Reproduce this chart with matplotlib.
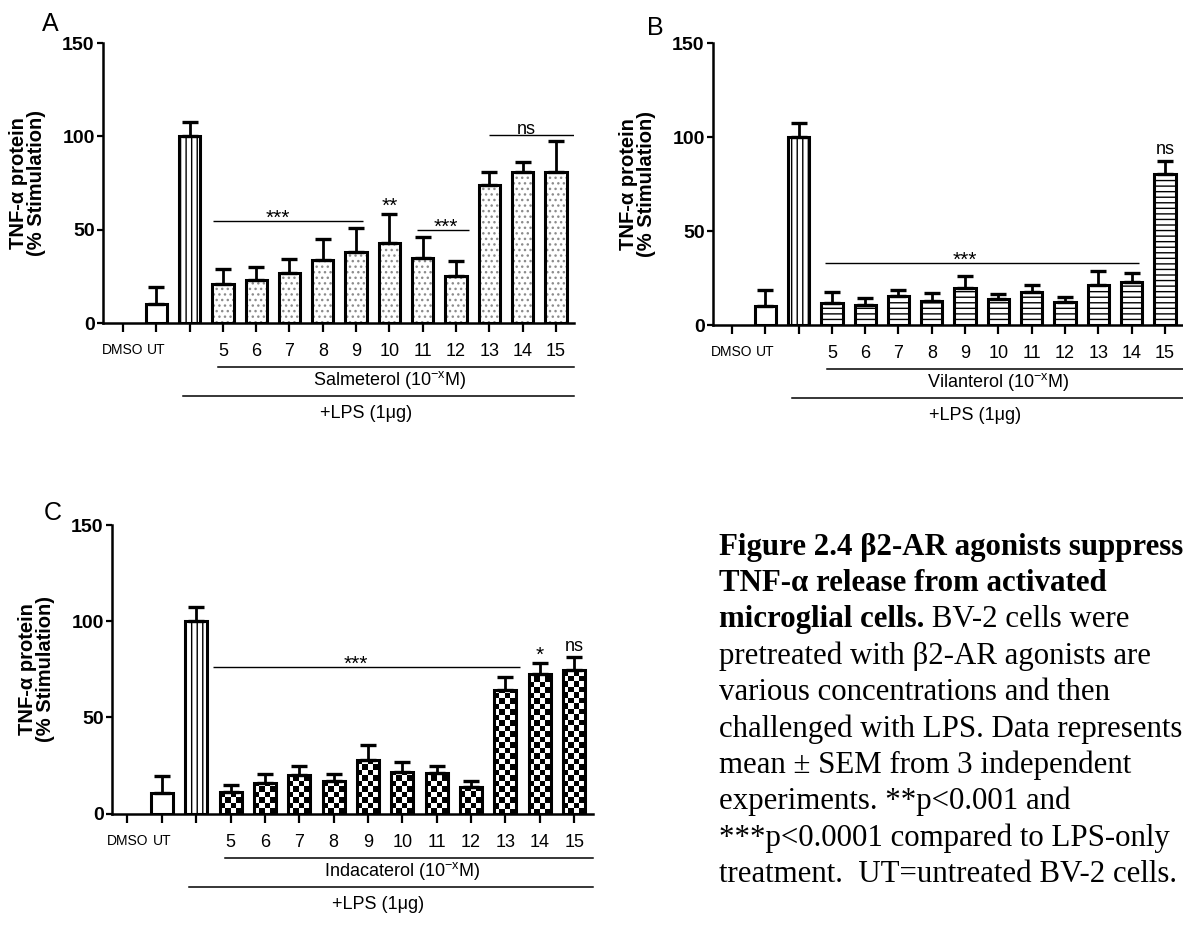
import numpy as np
import matplotlib
matplotlib.use("Agg")
import matplotlib.pyplot as plt
from matplotlib import transforms as mtransforms

plt.rcParams["font.family"] = ["Liberation Sans", "DejaVu Sans"]
plt.rcParams["mathtext.fontset"] = "custom"
plt.rcParams["mathtext.rm"] = "Liberation Sans"
plt.rcParams["hatch.linewidth"] = 1.0

# ===============================
# Data
# ===============================
tick_labels = ["DMSO", "UT", "", "5", "6", "7", "8", "9", "10", "11", "12", "13", "14", "15"]
# values start at "UT" (DMSO has no bar)
salm_mean = [10, 100, 21, 23, 27, 34, 38, 43, 35, 25, 74, 81, 81]
salm_sem = [9.5, 7.5, 8, 7, 7.5, 11, 13, 15.5, 11, 8, 7, 5.5, 16.5]
vil_mean = [10, 100, 11.6, 10.5, 15.6, 12.6, 19.5, 14, 17.8, 12.4, 21.1, 22.9, 80.5]
vil_sem = [8.8, 7.3, 6, 4.1, 3.2, 4.3, 6.5, 2.3, 3.5, 2.7, 7.7, 5, 6.8]
ind_mean = [10.4, 100, 11.2, 15.9, 20.2, 17.1, 28, 21.6, 21.1, 13.7, 64.4, 72.7, 74.4]
ind_sem = [9, 7.6, 3.8, 4.7, 4.4, 3.5, 7.6, 5.4, 3.6, 3.1, 6.7, 5.5, 6.9]

drug_names = ["Salmeterol", "Vilanterol", "Indacaterol"]
panel_letters = ["A", "B", "C"]

# significance bars: (label, x start, x end, text x, y)
sig_lines_A = [("***", 2.69, 7.2, 4.66, 54.5), ("***", 8.84, 10.4, 9.69, 49.6),
               ("ns", 10.98, 13.54, 12.1, 100.9)]
sig_lines_B = [("***", 2.78, 12.23, 6.98, 32.9)]
sig_lines_C = [("***", 2.49, 11.41, 6.65, 76.1)]
# labels over single bars: (label, category index)
sig_bars_A = [("**", 8)]
sig_bars_B = [("ns", 13)]
sig_bars_C = [("*", 12), ("ns", 13)]

caption_lines = [
    "Figure 2.4 \u03b22-AR agonists suppress",
    "TNF-\u03b1 release from activated",
    None,
    "pretreated with \u03b22-AR agonists are",
    "various concentrations and then",
    "challenged with LPS. Data represents",
    "mean \u00b1 SEM from 3 independent",
    "experiments. **p<0.001 and",
    "***p<0.0001 compared to LPS-only",
    "treatment.  UT=untreated BV-2 cells.",
]
caption_bold_part = "microglial cells."
caption_rest = " BV-2 cells were"

W, H = 1183, 925
fig = plt.figure(figsize=(W / 100, H / 100), dpi=100)


def add_ax(left, top, bottom, x_first, spacing, xlo, xhi=13.55):
    # pixel layout -> figure fraction
    right = x_first + xhi * spacing
    ax = fig.add_axes([left / W, 1 - bottom / H, (right - left) / W, (bottom - top) / H])
    ax.set_xlim(xlo, xhi)
    ax.set_ylim(0, 150)
    return ax


axA = add_ax(103, 43, 323, 123, 33.3, -0.6)
axB = add_ax(713, 43, 325, 732, 33.3, -0.57)
axC = add_ax(112, 525, 813.5, 127, 34.4, -0.45)

bar_w = 0.64
xs = np.arange(1, 14)


def style_axes(ax):
    for s in ["top", "right"]:
        ax.spines[s].set_visible(False)
    for s in ["left", "bottom"]:
        ax.spines[s].set_linewidth(1.8)
    ax.set_yticks([0, 50, 100, 150])
    ax.tick_params(axis="y", length=4.5, width=1.6, pad=1.5, labelsize=14)
    ax.tick_params(axis="x", length=6.5, width=1.6, pad=8)
    for lab in ax.get_yticklabels():
        lab.set_fontweight("bold")
    ax.set_xticks(range(14))
    ax.set_xticklabels(tick_labels)
    for i, lab in enumerate(ax.get_xticklabels()):
        lab.set_fontsize(10 if i < 2 else 13)
    ax.set_ylabel("TNF-\u03b1 protein\n(% Stimulation)", fontsize=14.5,
                  fontweight="bold", linespacing=0.95)
    width_px = ax.get_position().width * W
    ax.yaxis.set_label_coords(-57 / width_px, 0.5)


def draw_bars(ax, mean, sem, hatch):
    mean = np.array(mean)
    sem = np.array(sem)
    ax.errorbar(xs, mean, yerr=[np.zeros_like(sem), sem], fmt="none", ecolor="black",
                elinewidth=2.0, capsize=5.5, capthick=2.4, zorder=4)
    ax.bar(xs[:1], mean[:1], width=bar_w, color="white", edgecolor="black", linewidth=2.2, zorder=3)
    ax.bar(xs[1:2], mean[1:2], width=bar_w, color="white", edgecolor="black", linewidth=2.2,
           hatch="|||", zorder=3)
    if hatch == "checker":
        bars = ax.bar(xs[2:], mean[2:], width=bar_w, facecolor="none", edgecolor="black",
                      linewidth=2.2, zorder=3)
        cx, cy = 5.5 / 34.4, 5.5 / (288.5 / 150)
        for p in bars.patches:
            x0, w, h = p.get_x(), p.get_width(), p.get_height()
            nc, nr = int(np.ceil(w / cx)), int(np.ceil(h / cy))
            arr = (np.add.outer(np.arange(nr), np.arange(nc)) % 2).astype(float)
            im = ax.imshow(arr, extent=(x0, x0 + nc * cx, 0, nr * cy), origin="lower",
                           cmap="gray_r", vmin=0, vmax=1, aspect="auto",
                           interpolation="nearest", zorder=2)
            im.set_clip_path(p)
        ax.set_xlim(ax.get_xlim())
        ax.set_ylim(0, 150)
    elif hatch == "...":
        # light grey stipple, black outline on top
        ax.bar(xs[2:], mean[2:], width=bar_w, color="white", edgecolor="0.55", linewidth=0,
               hatch=hatch, zorder=2)
        ax.bar(xs[2:], mean[2:], width=bar_w, fill=False, edgecolor="black", linewidth=2.2,
               zorder=3)
    else:
        ax.bar(xs[2:], mean[2:], width=bar_w, color="white", edgecolor="black", linewidth=2.2,
               hatch=hatch, zorder=3)


def off_tr(ax, dy_px, base):
    return base + mtransforms.ScaledTranslation(0, dy_px / 100, fig.dpi_scale_trans)


def draw_sig(ax, lines, singles, mean, sem):
    for lab, x0, x1, tx, y in lines:
        ax.plot([x0, x1], [y, y], color="black", lw=1.0, zorder=5, solid_capstyle="butt")
        star = "*" in lab
        ax.text(tx, y, lab, transform=off_tr(ax, 3.0 if star else 5.5, ax.transData),
                ha="center", va="center", fontsize=15 if star else 13, zorder=6)
    for lab, idx in singles:
        top = mean[idx - 1] + sem[idx - 1]
        star = "*" in lab
        ax.text(idx, top, lab, transform=off_tr(ax, 7.5 if star else 11, ax.transData),
                ha="center", va="center", fontsize=15 if star else 13, zorder=6)


def draw_under(ax, name):
    base = mtransforms.blended_transform_factory(ax.transData, ax.transAxes)
    ax.plot([2.85, 13.55], [0, 0], transform=off_tr(ax, -44, base), color="black",
            lw=1.1, clip_on=False)
    ax.text(8.0, 0, name + r" (10$^{\mathregular{-x}}$M)", transform=off_tr(ax, -57, base),
            ha="center", va="center", fontsize=13, clip_on=False)
    ax.plot([1.8, 13.55], [0, 0], transform=off_tr(ax, -73, base), color="black",
            lw=1.1, clip_on=False)
    ax.text(7.3, 0, "+LPS (1\u03bcg)", transform=off_tr(ax, -91, base),
            ha="center", va="center", fontsize=13, clip_on=False)


panels = [
    (axA, salm_mean, salm_sem, "...", sig_lines_A, sig_bars_A),
    (axB, vil_mean, vil_sem, "---", sig_lines_B, sig_bars_B),
    (axC, ind_mean, ind_sem, "checker", sig_lines_C, sig_bars_C),
]
for i, (ax, m, s, hatch, sl, sb) in enumerate(panels):
    style_axes(ax)
    draw_bars(ax, m, s, hatch)
    draw_sig(ax, sl, sb, m, s)
    draw_under(ax, drug_names[i])

# panel letters
for letter, (px, py) in zip(panel_letters, [(50, 24), (655, 28), (53, 513)]):
    fig.text(px / W, 1 - py / H, letter, fontsize=18, ha="center", va="center")

# caption
cap_x = 719
base0, step = 554.5, 36.4
serif = "Liberation Serif"
csize = 22.2
for i, line in enumerate(caption_lines):
    y = 1 - (base0 + i * step) / H
    if line is None:
        t = fig.text(cap_x / W, y, caption_bold_part, fontsize=csize, family=serif,
                     fontweight="bold", va="baseline")
        fig.canvas.draw()
        bb = t.get_window_extent(renderer=fig.canvas.get_renderer())
        fig.text(bb.x1 / W, y, caption_rest, fontsize=csize, family=serif, va="baseline")
    else:
        fig.text(cap_x / W, y, line, fontsize=csize, family=serif, va="baseline",
                 fontweight="bold" if i < 2 else "normal")

fig.savefig("out.png", dpi=100)
